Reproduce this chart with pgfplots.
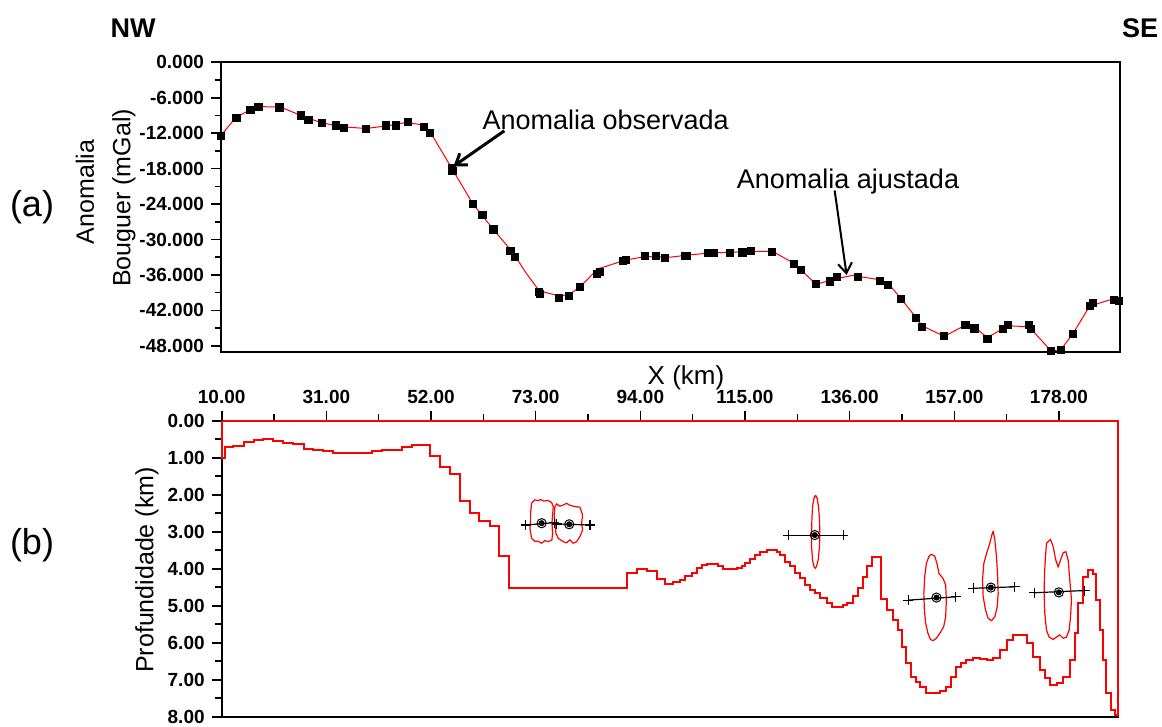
\documentclass[border=0pt]{standalone}
\usepackage{fontspec}
\setmainfont{Liberation Sans}
\usepackage{pgfplots}
\pgfplotsset{compat=1.18}
\usetikzlibrary{arrows.meta}

\pgfplotsset{
  panel/.style={
    anchor=north west, scale only axis, clip=false,
    tick align=outside, major tick length=5pt, minor tick length=3.2pt,
    axis line style={line width=0.9pt},
    tick style={line width=0.8pt, black},
    ticklabel style={font=\fontsize{9.5}{10}\selectfont\bfseries},
  },
}

\begin{document}
\begin{tikzpicture}
\useasboundingbox (0,0) rectangle (581pt,-363.5pt);

% (a) anomalia Bouguer
\begin{axis}[panel, at={(110.5pt,-31.15pt)}, width=449.5pt, height=144.7pt,
  xmin=10, xmax=190.2, ymin=-49, ymax=0, xtick=\empty,
  ytick={-48,-42,...,0}, minor y tick num=1, ytick pos=left,
  yticklabels={-48.000,-42.000,-36.000,-30.000,-24.000,-18.000,-12.000,-6.000,0.000}]
% ajustada
\addplot[red, line width=0.5pt] coordinates {
(10,-12.4) (13,-9.3) (16,-8.0) (18,-7.5) (22,-7.6) (26,-9.0) (30,-10.2) (34,-10.9)
(39,-11.2) (43,-10.8) (47,-10.2) (50.5,-10.6) (52,-11.9) (56.3,-18.0) (60.5,-24.0)
(64.6,-28.3) (68.5,-32.2) (71,-35.5) (73.8,-38.7) (78,-39.6) (80,-39.2) (82,-38.0)
(85.5,-35.0) (91,-33.5) (95,-32.9) (100,-33.0) (104,-32.6) (108,-32.3) (114,-32.1)
(116,-32.0) (120.5,-32.0) (124.8,-34.0) (129.3,-37.6) (133,-36.7) (136.5,-36.1)
(142,-36.8) (144,-37.7) (146.3,-40.0) (149.3,-43.2) (150.5,-44.6) (155,-46.4)
(159.2,-44.5) (161,-44.8) (163.6,-46.6) (167.8,-44.6) (172,-44.8) (176.4,-48.9)
(178.4,-48.6) (180.8,-45.9) (184.1,-41.3) (189,-40.0)};
% observada
\addplot[only marks, mark=square*, mark size=1.8pt, black] coordinates {
(9.9,-12.44) (13.1,-9.39) (15.9,-8.08) (17.5,-7.58) (21.7,-7.63) (26.0,-8.99) (27.5,-9.78)
(30.3,-10.29) (33.1,-10.68) (34.6,-11.08) (39.0,-11.25) (43.1,-10.68) (45.0,-10.68)
(47.4,-10.12) (50.7,-10.91) (51.8,-11.98) (56.3,-17.97) (56.4,-18.37) (60.5,-24.02)
(62.4,-25.88) (64.6,-28.31) (68.0,-31.87) (68.9,-32.94) (73.65,-38.88) (73.9,-39.27)
(77.7,-39.9) (79.7,-39.56) (81.9,-38.09) (85.4,-35.77) (85.9,-35.43) (90.6,-33.6)
(91.1,-33.4) (94.9,-32.83) (97.2,-32.83) (99.0,-33.12) (103.1,-32.8) (103.4,-32.75)
(107.7,-32.3) (108.8,-32.3) (112.0,-32.3) (114.5,-32.2) (116.2,-31.98) (120.5,-32.15)
(124.8,-34.13) (126.3,-35.09) (129.3,-37.53) (132.0,-37.1) (133.4,-36.4) (137.7,-36.28)
(142.1,-36.95) (143.7,-37.7) (146.3,-40.12) (149.3,-43.34) (150.5,-44.75) (154.95,-46.39)
(159.2,-44.47) (161.0,-45.04) (163.6,-46.84) (166.7,-45.2) (167.8,-44.4) (172.0,-44.5)
(172.4,-45.15) (176.4,-48.9) (178.4,-48.65) (180.8,-45.94) (184.1,-41.3) (184.8,-40.75)
(189.05,-40.17) (190.0,-40.46)};
\node[anchor=base west, font=\fontsize{13.5}{14}\selectfont] at (axis cs:61.0,-11.3) {Anomalia observada};
\draw[-{Straight Barb[length=5pt,width=7pt]}, line width=1.5pt] (axis cs:66.8,-11.6) -- (axis cs:56.6,-17.6);
\node[anchor=base west, font=\fontsize{13.5}{14}\selectfont] at (axis cs:112.0,-21.3) {Anomalia ajustada};
\draw[-{Straight Barb[length=5pt,width=7pt]}, line width=1pt] (axis cs:133.0,-21.7) -- (axis cs:135.4,-36.0);
\end{axis}

% (b) modelo
\begin{axis}[panel, at={(110.85pt,-210.35pt)}, width=448.3pt, height=148pt,
  y dir=reverse, xmin=10, xmax=189.9, ymin=0, ymax=8,
  xtick={10,31,...,178}, minor x tick num=1, xtick pos=right, xticklabel pos=right,
  xticklabels={10.00,31.00,52.00,73.00,94.00,115.00,136.00,157.00,178.00},
  ytick={0,...,8}, minor y tick num=1, ytick pos=left,
  yticklabels={0.00,1.00,2.00,3.00,4.00,5.00,6.00,7.00,8.00}]
\addplot[color=red, line width=1pt, const plot, line join=miter] coordinates {
(10,0) (10,1.0) (10.66,0.70) (12.33,0.675) (14.54,0.585) (16.55,0.52) (18.35,0.50)
(20.36,0.56) (22.23,0.59) (24.37,0.64) (26.51,0.765) (28.38,0.80) (30.38,0.83)
(32.26,0.87) (34.40,0.88) (40.09,0.81) (42.10,0.79) (46.11,0.70) (48.11,0.665)
(51.79,0.945) (53.79,1.24) (55.80,1.45) (57.80,2.17) (59.81,2.50) (61.68,2.71)
(63.82,2.84) (65.69,3.66) (67.69,4.51) (91.24,4.11) (93.25,4.00) (95.26,4.07)
(97.26,4.29) (98.93,4.41) (100.6,4.35) (101.9,4.31) (102.9,4.20) (104.3,4.11)
(105.3,3.99) (106.3,3.90) (107.3,3.87) (108.6,3.87) (109.6,3.92) (110.6,4.02)
(112.3,4.02) (113.3,3.99) (114.3,3.93) (115.0,3.85) (116.0,3.75) (117.0,3.63)
(118.0,3.54) (119.4,3.49) (120.7,3.49) (121.4,3.54) (122.0,3.63) (123.0,3.81)
(124.0,3.94) (125.1,4.12) (126.1,4.26) (127.1,4.44) (128.1,4.58) (129.1,4.67)
(130.1,4.80) (131.4,4.94) (132.4,5.03) (134.7,4.98) (135.4,4.94) (136.7,4.75)
(137.7,4.51) (138.6,4.22) (139.5,3.92) (140.4,3.68) (142.2,4.82) (143.4,5.12)
(144.7,5.39) (145.7,5.66) (146.4,6.11) (147.4,6.56) (148.4,6.92) (149.3,7.05)
(150.1,7.19) (151.4,7.37) (154.1,7.30) (155.4,7.19) (156.4,6.92) (157.4,6.65)
(158.4,6.55) (159.4,6.47) (160.8,6.42) (162.1,6.44) (163.5,6.47) (164.8,6.40)
(166.1,6.20) (167.5,5.93) (168.8,5.79) (170.1,5.80) (171.5,6.02) (172.8,6.38)
(174.2,6.74) (175.2,6.95) (176.2,7.14) (177.5,7.10) (178.8,6.92) (180.2,6.47)
(181.2,5.75) (181.8,4.94) (182.8,4.22) (183.8,4.04) (184.8,4.13) (185.5,4.85)
(186.2,5.66) (186.8,6.47) (187.5,7.37) (188.5,7.82) (189.2,7.95) (189.9,8.0)
(189.9,0) (10,0)};
% contornos
\addplot[red, line width=0.6pt] coordinates {(71.98,2.50) (72.18,2.23) (72.85,2.14) (73.51,2.16) (73.98,2.13) (74.52,2.17) (75.52,2.16) (76.19,2.21) (76.53,2.32) (76.39,2.55) (76.26,2.77) (76.39,3.04) (76.26,3.22) (75.52,3.27) (74.86,3.24) (74.19,3.31) (73.51,3.26) (72.85,3.26) (72.18,3.18) (71.85,2.91) (71.98,2.68) (71.98,2.50)};
\addplot[red, line width=0.6pt] coordinates {(76.72,2.55) (76.86,2.32) (77.20,2.25) (77.87,2.31) (78.53,2.28) (79.20,2.23) (79.73,2.28) (80.53,2.31) (81.88,2.34) (82.42,2.55) (82.21,2.77) (82.42,2.95) (81.88,3.13) (81.21,3.27) (80.53,3.31) (79.87,3.22) (79.20,3.30) (78.53,3.27) (77.53,3.18) (77.06,3.04) (76.86,2.77) (76.72,2.55)};
\addplot[red, line width=0.6pt] coordinates {(129.15,2.01) (129.48,2.10) (129.75,2.32) (129.95,2.68) (130.02,3.04) (129.95,3.40) (129.68,3.76) (129.35,3.94) (129.09,3.99) (128.82,3.94) (128.55,3.76) (128.35,3.40) (128.35,3.04) (128.42,2.68) (128.55,2.32) (128.82,2.10) (129.15,2.01)};
\addplot[red, line width=0.6pt] coordinates {(152.39,3.61) (153.06,3.66) (153.52,3.86) (153.92,4.13) (154.73,4.26) (155.26,4.44) (155.40,4.85) (155.26,5.30) (154.86,5.57) (154.06,5.75) (153.39,5.88) (152.72,5.945) (152.19,5.91) (151.72,5.75) (151.25,5.48) (150.99,5.12) (150.88,4.67) (151.05,4.22) (151.39,3.86) (151.92,3.66) (152.39,3.61)};
\addplot[red, line width=0.6pt] coordinates {(164.79,2.98) (165.13,3.22) (165.46,3.68) (165.66,4.13) (165.80,4.67) (165.60,5.03) (165.13,5.30) (164.46,5.405) (163.79,5.34) (163.26,5.12) (162.79,4.76) (162.65,4.31) (162.92,3.86) (163.46,3.59) (164.12,3.31) (164.53,3.09) (164.79,2.98)};
\addplot[red, line width=0.6pt] coordinates {(175.49,3.31) (176.29,3.21) (176.82,3.40) (177.36,3.77) (177.83,3.95) (178.30,3.77) (178.83,3.57) (179.37,3.54) (179.84,3.77) (180.17,4.31) (180.51,4.85) (180.31,5.30) (180.04,5.66) (179.50,5.85) (178.83,5.88) (178.16,5.79) (177.49,5.85) (176.82,5.91) (176.02,5.85) (175.49,5.66) (175.15,5.21) (175.02,4.67) (175.09,4.13) (175.29,3.68) (175.49,3.31)};
% barras
\addplot[black, line width=0.6pt, mark=+, mark size=2.5pt] coordinates {(70.98,2.82) (76.72,2.755)};
\addplot[black, line width=0.6pt, mark=+, mark size=2.5pt] coordinates {(77.20,2.79) (83.88,2.82)};
\addplot[black, line width=0.6pt, mark=+, mark size=2.5pt] coordinates {(123.67,3.10) (134.7,3.10)};
\addplot[black, line width=0.6pt, mark=+, mark size=2.5pt] coordinates {(147.74,4.85) (157.3,4.76)};
\addplot[black, line width=0.6pt, mark=+, mark size=2.5pt] coordinates {(160.78,4.53) (169.14,4.49)};
\addplot[black, line width=0.6pt, mark=+, mark size=2.5pt] coordinates {(173.01,4.65) (183.18,4.59)};
% solucoes
\addplot[only marks, mark=o, mark size=2.3pt, black, line width=0.5pt, mark options={fill=white}] coordinates {(74.19,2.77) (79.73,2.80) (129.0,3.09) (153.42,4.78) (164.32,4.51) (177.96,4.64)};
\addplot[only marks, mark=*, mark size=1.3pt, black] coordinates {(74.19,2.77) (79.73,2.80) (129.0,3.09) (153.42,4.78) (164.32,4.51) (177.96,4.64)};
\end{axis}

\node[font=\fontsize{13.5}{14}\selectfont\bfseries] at (66.5pt,-14pt) {NW};
\node[font=\fontsize{13.5}{14}\selectfont\bfseries] at (570pt,-14pt) {SE};
\node[font=\fontsize{18}{20}\selectfont] at (16pt,-103.5pt) {(a)};
\node[font=\fontsize{18}{20}\selectfont] at (16pt,-272.5pt) {(b)};
\node[rotate=90, font=\fontsize{12.5}{14}\selectfont] at (42.5pt,-96pt) {Anomalia};
\node[rotate=90, font=\fontsize{12.5}{14}\selectfont] at (62pt,-99pt) {Bouguer (mGal)};
\node[rotate=90, font=\fontsize{12.5}{14}\selectfont] at (73.5pt,-285pt) {Profundidade (km)};
\node[font=\fontsize{13}{14}\selectfont] at (343pt,-188.8pt) {X (km)};
\end{tikzpicture}
\end{document}
